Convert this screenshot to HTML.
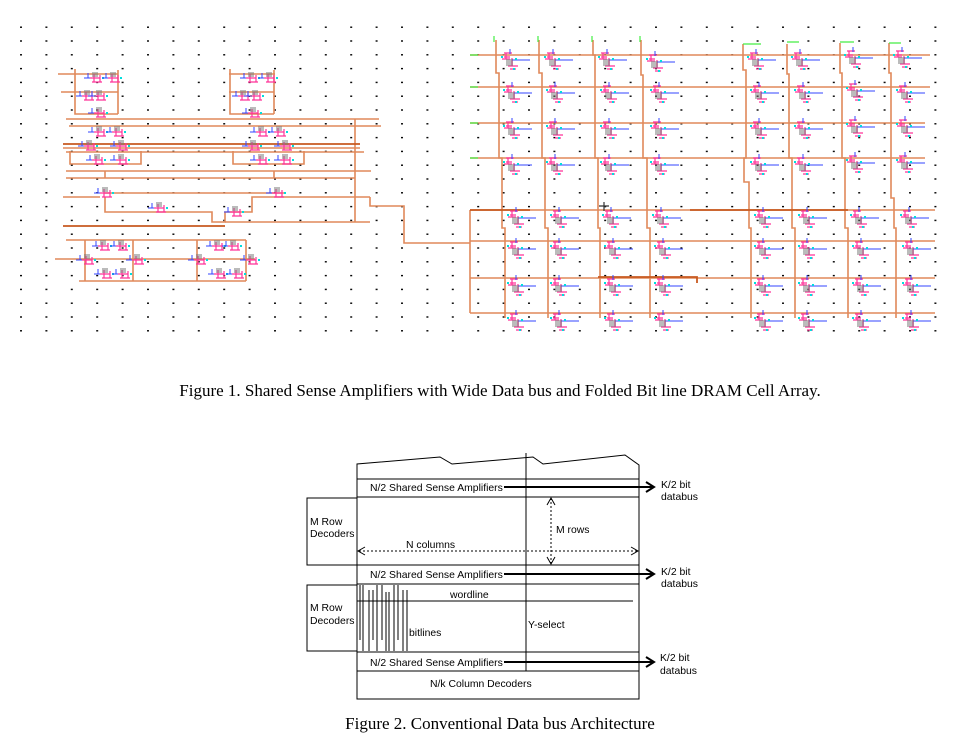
<!DOCTYPE html>
<html><head><meta charset="utf-8"><style>
html,body{margin:0;padding:0;background:#fff;}
svg{display:block;}
.cap{font-family:"Liberation Serif",serif;font-size:17px;fill:#000;}
.s{font-family:"Liberation Sans",sans-serif;font-size:10.4px;fill:#000;}
</style></head><body>
<svg width="967" height="754" viewBox="0 0 967 754" xmlns="http://www.w3.org/2000/svg">
<defs>
<pattern id="dots" patternUnits="userSpaceOnUse" x="20" y="26.5" width="25.4" height="13.8">
<rect x="0" y="0" width="2" height="1.4" fill="#000"/>
</pattern>
<g id="cell">
<path d="M4 -2h8M6 -2v6M2 4h8M12 3v8M8 11h10M10 14h6M4 2h6" stroke="#ff3399" stroke-width="1.2" fill="none"/>
<path d="M12 5h18M10 -6v5" stroke="#3344ff" stroke-width="1" fill="none"/>
<rect x="6" y="4" width="7" height="7" fill="#777" opacity="0.5"/>
<rect x="1" y="1" width="2" height="2" fill="#00dddd"/>
<rect x="15" y="3" width="2" height="2" fill="#00dddd"/>
<rect x="13" y="13" width="2" height="2" fill="#00dddd"/>
</g>
<g id="lc">
<path d="M2 0h10M6 -4v8M4 4h10M12 -3v7" stroke="#ff3399" stroke-width="1.2" fill="none"/>
<path d="M0 -5v5M-4 0h6" stroke="#3344ff" stroke-width="1" fill="none"/>
<rect x="4" y="-6" width="6" height="5" fill="#777" opacity="0.5"/>
<rect x="14" y="-1" width="2" height="2" fill="#00dddd"/>
</g>
</defs>
<rect x="15" y="22" width="940" height="315" fill="url(#dots)"/>

<g stroke="#e0895a" stroke-width="1.6" fill="none">
<path d="M58 74H118M229 74H275M61 92H118M229 92H274"/>
<path d="M75 69V114H118M118 70V114M230 69V114H274M274 70V114"/>
<path d="M66 119H379M69 126H381M355 119V222"/>
<path d="M63 148H360M66 152H364M70 151V164H141V151"/>
<path d="M233 151V164H304V151M66 171H371M66 178H355M105 171V178M274 171V178"/>
<path d="M104 193H285M63 197H100M275 197H370M370 197V206H404V243H470"/>
<path d="M105 197V212H212V222H225V212H252V197H275"/>
<path d="M225 222H370"/>
<path d="M66 240H246M55 259H255M85 240V281M133 240V281M197 240V281M246 240V281M79 281H246"/>
</g>
<g stroke="#c85a20" stroke-width="1.8" fill="none">
<path d="M63 144H360M63 226H225"/>
</g>
<g>
<use href="#lc" x="88" y="78"/><use href="#lc" x="106" y="78"/><use href="#lc" x="80" y="96"/><use href="#lc" x="92" y="96"/>
<use href="#lc" x="244" y="78"/><use href="#lc" x="262" y="78"/><use href="#lc" x="236" y="96"/><use href="#lc" x="248" y="96"/>
<use href="#lc" x="92" y="113"/><use href="#lc" x="246" y="113"/>
<use href="#lc" x="92" y="132"/><use href="#lc" x="110" y="132"/><use href="#lc" x="254" y="132"/><use href="#lc" x="272" y="132"/>
<use href="#lc" x="82" y="146"/><use href="#lc" x="114" y="146"/><use href="#lc" x="246" y="146"/><use href="#lc" x="278" y="146"/>
<use href="#lc" x="90" y="160"/><use href="#lc" x="114" y="160"/><use href="#lc" x="254" y="160"/><use href="#lc" x="278" y="160"/>
<use href="#lc" x="98" y="193"/><use href="#lc" x="270" y="193"/><use href="#lc" x="152" y="208"/><use href="#lc" x="228" y="212"/>
<use href="#lc" x="96" y="246"/><use href="#lc" x="114" y="246"/><use href="#lc" x="210" y="246"/><use href="#lc" x="226" y="246"/>
<use href="#lc" x="80" y="260"/><use href="#lc" x="130" y="260"/><use href="#lc" x="192" y="260"/><use href="#lc" x="244" y="260"/>
<use href="#lc" x="98" y="274"/><use href="#lc" x="116" y="274"/><use href="#lc" x="212" y="274"/><use href="#lc" x="230" y="274"/>
</g>

<g stroke="#e0895a" stroke-width="1.6" fill="none">
<path d="M470 55H930M470 87H930M470 123H925M470 158H925M470 210H935M470 241H935M470 278H935M470 313H935"/>
<path d="M470 210V313"/>
<path d="M496 40V73H499V158H502V228H505V318"/>
<path d="M539 40V73H542V158H545V228H548V318"/>
<path d="M593 40V55H595V158H598V228H600V318"/>
<path d="M641 40V75H643V158H647V228H650V318"/>
<path d="M743 44V70H746V158H744V182H749V228H751V318"/>
<path d="M787 44V74H789V158H792V228H795V318"/>
<path d="M840 43V73H842V158H845V228H848V318"/>
<path d="M889 43V73H891V198H894V228H896V318"/>
</g>
<g stroke="#c85a20" stroke-width="1.8" fill="none">
<path d="M470 210H530M690 210H848M598 277H697V283"/>
</g>
<g stroke="#44ee44" stroke-width="1.2">
<path d="M494 36v6M538 36v6M592 36v6M640 36v6M743 44h18M787 42h12M840 42h14M889 43h12M470 55h8M470 87h8M470 123h8M470 158h8"/>
</g>
<g>
<use href="#cell" x="500" y="55"/><use href="#cell" x="543" y="55"/><use href="#cell" x="597" y="55"/><use href="#cell" x="645" y="57"/><use href="#cell" x="746" y="55"/><use href="#cell" x="790" y="55"/><use href="#cell" x="843" y="53"/><use href="#cell" x="892" y="53"/>
<use href="#cell" x="502" y="88"/><use href="#cell" x="545" y="88"/><use href="#cell" x="599" y="88"/><use href="#cell" x="649" y="88"/><use href="#cell" x="749" y="88"/><use href="#cell" x="793" y="88"/><use href="#cell" x="845" y="86"/><use href="#cell" x="895" y="88"/>
<use href="#cell" x="502" y="124"/><use href="#cell" x="545" y="124"/><use href="#cell" x="599" y="124"/><use href="#cell" x="649" y="124"/><use href="#cell" x="749" y="124"/><use href="#cell" x="793" y="124"/><use href="#cell" x="845" y="122"/><use href="#cell" x="895" y="122"/>
<use href="#cell" x="502" y="160"/><use href="#cell" x="545" y="160"/><use href="#cell" x="599" y="160"/><use href="#cell" x="649" y="160"/><use href="#cell" x="749" y="160"/><use href="#cell" x="793" y="160"/><use href="#cell" x="845" y="158"/><use href="#cell" x="895" y="158"/>
<use href="#cell" x="506" y="213"/><use href="#cell" x="549" y="213"/><use href="#cell" x="601" y="213"/><use href="#cell" x="651" y="213"/><use href="#cell" x="753" y="213"/><use href="#cell" x="797" y="213"/><use href="#cell" x="849" y="213"/><use href="#cell" x="899" y="213"/>
<use href="#cell" x="506" y="244"/><use href="#cell" x="549" y="244"/><use href="#cell" x="603" y="244"/><use href="#cell" x="653" y="244"/><use href="#cell" x="753" y="244"/><use href="#cell" x="797" y="244"/><use href="#cell" x="851" y="244"/><use href="#cell" x="901" y="244"/>
<use href="#cell" x="506" y="281"/><use href="#cell" x="549" y="281"/><use href="#cell" x="603" y="281"/><use href="#cell" x="653" y="281"/><use href="#cell" x="753" y="281"/><use href="#cell" x="797" y="281"/><use href="#cell" x="851" y="281"/><use href="#cell" x="901" y="281"/>
<use href="#cell" x="506" y="316"/><use href="#cell" x="549" y="316"/><use href="#cell" x="603" y="316"/><use href="#cell" x="653" y="316"/><use href="#cell" x="753" y="316"/><use href="#cell" x="797" y="316"/><use href="#cell" x="851" y="316"/><use href="#cell" x="901" y="316"/>
</g>
<path d="M599 206h10M604 202v9" stroke="#333" stroke-width="1.2"/>

<text class="cap" x="500" y="396" text-anchor="middle">Figure 1. Shared Sense Amplifiers with Wide Data bus and Folded Bit line DRAM Cell Array.</text>

<g stroke="#000" stroke-width="1" fill="none">
<path d="M357 699V464L440 457L452 464L533 457L543 464L625 455L639 465V699Z"/>
<path d="M526 453V671"/>
<path d="M357 479H639M357 497H639M357 565H639M357 584H639M357 601H633M357 652H639M357 671H639"/>
<rect x="307" y="498" width="50" height="67"/>
<rect x="307" y="585" width="50" height="66"/>
<path d="M360 585V640M363 585V651M369 590V651M373 590V640M377 585V651M382 585V640M386 592V651M389 592V651M394 585V651M398 585V640M403 590V651M407 590V651"/>
</g>
<g stroke="#000" stroke-width="2" fill="none">
<path d="M504 487H652M646 482L654 487L646 492"/>
<path d="M504 574H652M646 569L654 574L646 579"/>
<path d="M504 662H652M646 657L654 662L646 667"/>
</g>
<g stroke="#000" stroke-width="1" fill="none" stroke-dasharray="2,2">
<path d="M551 498V563M359 551H637"/>
</g>
<g stroke="#000" stroke-width="1" fill="none">
<path d="M547 505L551 498L555 505M547 557L551 564L555 557M365 547L358 551L365 555M631 547L638 551L631 555"/>
</g>
<text class="s" x="370" y="491">N/2 Shared Sense Amplifiers</text>
<text class="s" x="370" y="578">N/2 Shared Sense Amplifiers</text>
<text class="s" x="370" y="666">N/2 Shared Sense Amplifiers</text>
<text class="s" x="661" y="488">K/2 bit</text><text class="s" x="661" y="500">databus</text>
<text class="s" x="661" y="575">K/2 bit</text><text class="s" x="661" y="587">databus</text>
<text class="s" x="660" y="661">K/2 bit</text><text class="s" x="660" y="674">databus</text>
<text class="s" x="310" y="525">M Row</text><text class="s" x="310" y="537">Decoders</text>
<text class="s" x="310" y="611">M Row</text><text class="s" x="310" y="624">Decoders</text>
<text class="s" x="406" y="548">N columns</text>
<text class="s" x="556" y="533">M rows</text>
<text class="s" x="450" y="598">wordline</text>
<text class="s" x="409" y="636">bitlines</text>
<text class="s" x="528" y="628">Y-select</text>
<text class="s" x="430" y="687">N/k Column Decoders</text>

<text class="cap" x="500" y="729" text-anchor="middle">Figure 2. Conventional Data bus Architecture</text>
</svg>
</body></html>
